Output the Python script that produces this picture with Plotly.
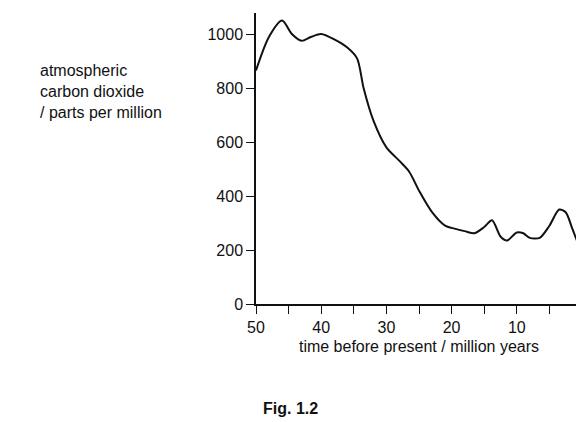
import plotly.graph_objects as go

time_myr = [50, 48, 46, 44.5, 43, 41.5, 40, 38, 36, 34.5, 33.5, 32, 30, 28, 26.5, 25, 23, 21, 20, 18, 16.5, 15, 13.8, 12.5, 11.5, 10, 9, 8, 6.5, 5, 3.5, 2.5, 1.5, 0]
co2_ppm = [865, 990, 1050, 1000, 975, 990, 1000, 980, 950, 910, 800, 680, 580, 530, 490, 420, 340, 290, 282, 270, 262, 285, 310, 250, 235, 265, 262, 245, 245, 290, 350, 340, 280, 185]

fig = go.Figure(go.Scatter(x=time_myr, y=co2_ppm, mode="lines", cliponaxis=False,
                           line=dict(color="#111", width=2, shape="spline", smoothing=0.8)))
font = dict(family="Liberation Sans, Arial", size=16, color="#111")
fig.update_layout(width=584, height=422, margin=dict(l=248, r=8, t=5, b=126),
                  plot_bgcolor="white", paper_bgcolor="white", showlegend=False, font=font)
fig.update_xaxes(range=[50, 0], tickvals=[50, 40, 30, 20, 10, 0], showgrid=False, zeroline=False,
                 showline=True, linecolor="#111", linewidth=1.5, ticks="outside", ticklen=8,
                 tickcolor="#111", tickfont=font,
                 minor=dict(tickvals=[45, 35, 25, 15, 5], ticks="outside", ticklen=8, tickcolor="#111"),
                 title=dict(text="time before present / million years", standoff=6, font=font))
fig.update_yaxes(range=[0, 1078], tickvals=[0, 200, 400, 600, 800, 1000], showgrid=False, zeroline=False,
                 showline=True, linecolor="#111", linewidth=1.5, ticks="outside", ticklen=8, tickcolor="#111",
                 tickfont=font)
fig.add_annotation(text="atmospheric<br>carbon dioxide<br>/ parts per million", xref="paper", yref="paper",
                   x=-0.67, y=0.73, xanchor="left", yanchor="middle", showarrow=False, align="left", font=font)
fig.add_annotation(text="<b>Fig. 1.2</b>", xref="paper", yref="paper", x=0.107, y=-0.36,
                   xanchor="center", yanchor="middle", showarrow=False, font=font)
fig.write_html("out.html")
